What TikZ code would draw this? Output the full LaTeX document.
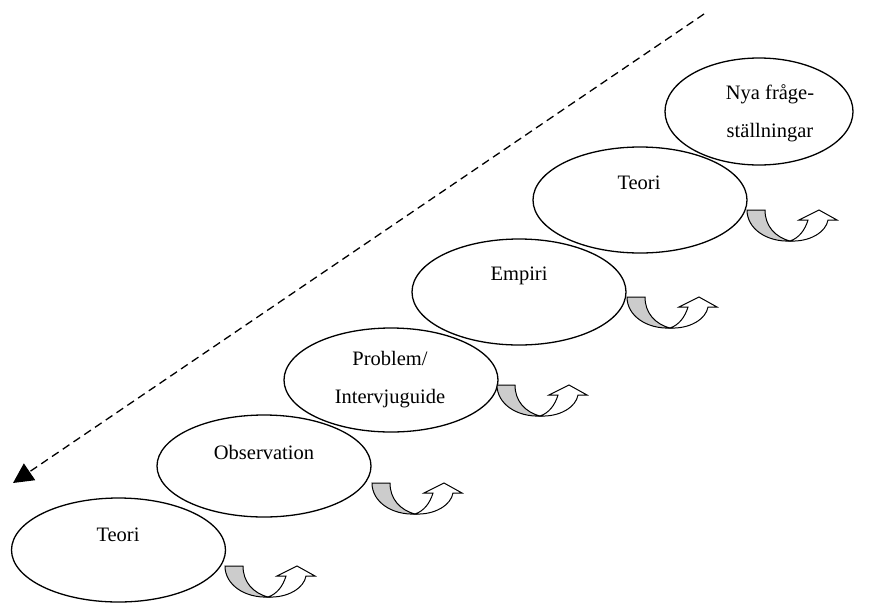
\documentclass[tikz,border=0pt]{standalone}
\usepackage{fontspec}
\setmainfont{Liberation Serif}
\usetikzlibrary{shapes.geometric,arrows.meta}
\tikzset{
  ell/.style={draw, ellipse, line width=1.3pt, inner sep=0pt, outer sep=0pt},
  lbl/.style={font=\fontsize{20.5}{38}\selectfont, align=center, inner sep=0pt},
  uturn/.pic={
    \draw[line width=1pt, fill=gray!40, line join=miter]
      (0,0) -- (18,0) .. controls (18,16) and (28,27) .. (43,31)
      .. controls (20,32) and (0,19) .. (0,0) -- cycle;
    \draw[line width=1pt, fill=white, line join=miter]
      (43,31) .. controls (63,32) and (79,22) .. (81,10) -- (90,10) -- (72,0)
      -- (52,10) -- (61,10) .. controls (58,20) and (52,28) .. (43,31) -- cycle;
  }
}
\begin{document}
\begin{tikzpicture}[x=1pt,y=-1pt]
\useasboundingbox (0,0) rectangle (872,603);
% ellipses
\node[ell, minimum width=214pt, minimum height=104pt] (e1) at (118.5,550) {};
\node[ell, minimum width=214pt, minimum height=102pt] (e2) at (264,466) {};
\node[ell, minimum width=214pt, minimum height=104pt] (e3) at (391,380) {};
\node[ell, minimum width=214pt, minimum height=106pt] (e4) at (519,292) {};
\node[ell, minimum width=214pt, minimum height=106pt] (e5) at (640,200) {};
\node[ell, minimum width=188pt, minimum height=107pt] (e6) at (759,111.5) {};
% labels
\node[lbl] (t1) at (118,535) {Teori};
\node[lbl] (t2) at (264,452) {Observation};
\node[lbl] (t3) at (390,380) {Problem/\\Intervjuguide};
\node[lbl] (t4) at (519,276) {Empiri};
\node[lbl] (t5) at (639,183) {Teori};
\node[lbl] (t6) at (770,113) {Nya fråge-\\ställningar};
% u-turn arrows
\pic at (225,566) {uturn};
\pic at (372,483) {uturn};
\pic at (497,385) {uturn};
\pic at (627,297) {uturn};
\pic at (747,210) {uturn};
% dashed arrow
\coordinate (ds) at (704,14);
\coordinate (de) at (13,483);
\draw[line width=1.3pt, dash pattern=on 8pt off 5pt, -{Triangle[length=20pt,width=20pt]}] (ds) -- (de);
\end{tikzpicture}
\end{document}
